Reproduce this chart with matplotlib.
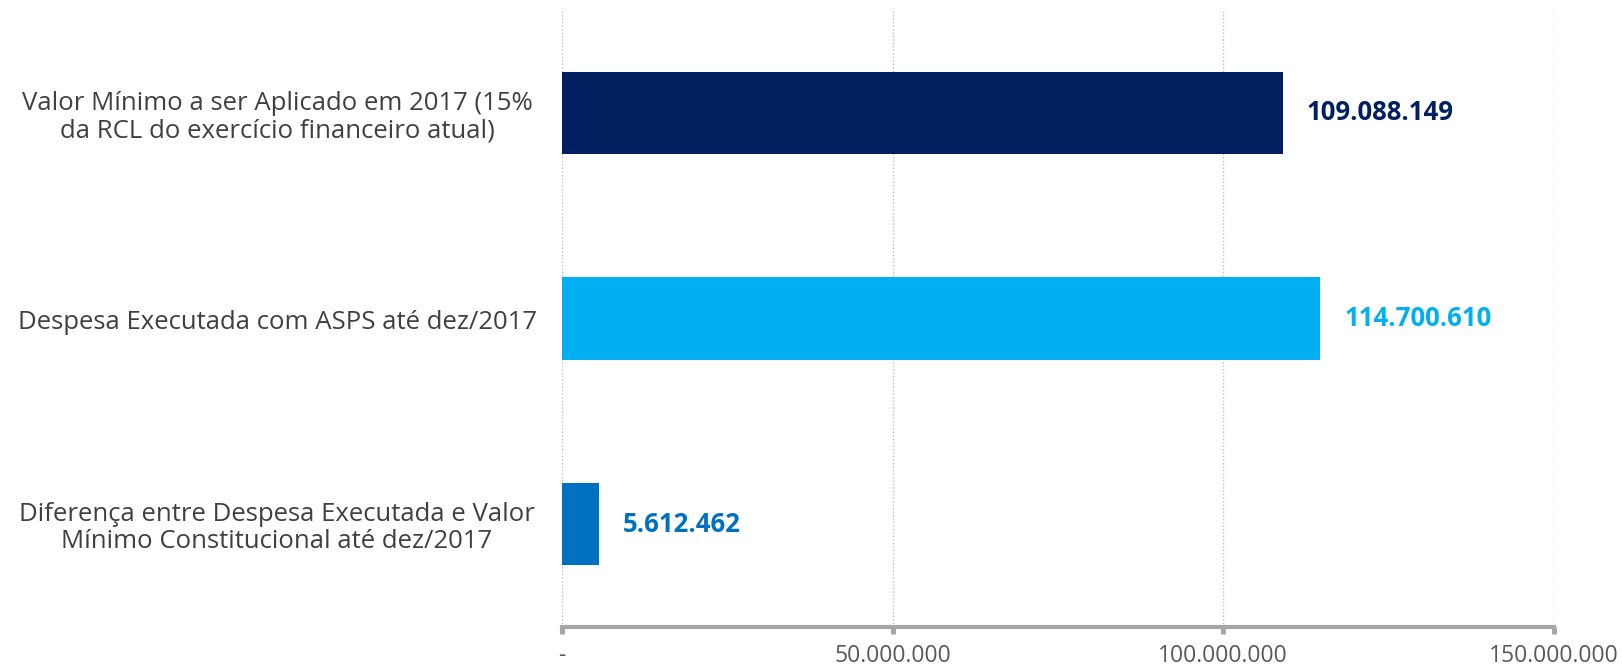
import matplotlib
matplotlib.use("Agg")
from matplotlib import pyplot as plt
from matplotlib.ticker import FixedLocator
import matplotlib.transforms as mtransforms

# categories and values (R$)
categorias = [
    "Valor Mínimo a ser Aplicado em 2017 (15%\nda RCL do exercício financeiro atual)",
    "Despesa Executada com ASPS até dez/2017",
    "Diferença entre Despesa Executada e Valor\nMínimo Constitucional até dez/2017",
]
valores = [109088149, 114700610, 5612462]
cores = ["#002060", "#00B0F0", "#0070C0"]
ticks = [0, 50000000, 100000000, 150000000]
tick_labels = ["-", "50.000.000", "100.000.000", "150.000.000"]

plt.rcParams['font.family'] = ['Open Sans', 'DejaVu Sans']


def fmt(v):
    return f"{v:,}".replace(",", ".")


fig = plt.figure(figsize=(16.22, 6.67), dpi=100)
ax = fig.add_axes([0.3465, 0.06, 0.958 - 0.3465, 0.925])

pos = range(len(valores))
ax.barh(pos, valores, height=0.40, color=cores, zorder=3)

ax.set_ylim(2.5, -0.5)
ax.set_xlim(0, 150000000)

# value labels next to each bar
for i, v in enumerate(valores):
    ax.annotate(fmt(v), (v, i), xytext=(17, 0), textcoords='offset points',
                va='center', ha='left', fontsize=18.5, fontweight='bold',
                color=cores[i])

# category labels, centred to the left of the axes
trans = mtransforms.blended_transform_factory(fig.transFigure, ax.transData)
for i, c in enumerate(categorias):
    ax.text(277 / 1622, i + 0.02, c, transform=trans, ha='center', va='center',
            multialignment='center', fontsize=18.5, color='#404040',
            linespacing=1.12)
ax.set_yticks([])

ax.xaxis.set_major_locator(FixedLocator(ticks))
ax.set_xticklabels(tick_labels, fontsize=16.5, color='#595959')
ax.tick_params(axis='x', length=5, width=3.6, color='#A6A6A6', pad=7)
ax.grid(axis='x', color='#BFBFBF', linestyle=(0, (1, 1.5)), linewidth=1, zorder=0)

for s in ['top', 'right', 'left']:
    ax.spines[s].set_visible(False)
ax.spines['bottom'].set_color('#A6A6A6')
ax.spines['bottom'].set_linewidth(3)

fig.savefig("out.png", dpi=100)
